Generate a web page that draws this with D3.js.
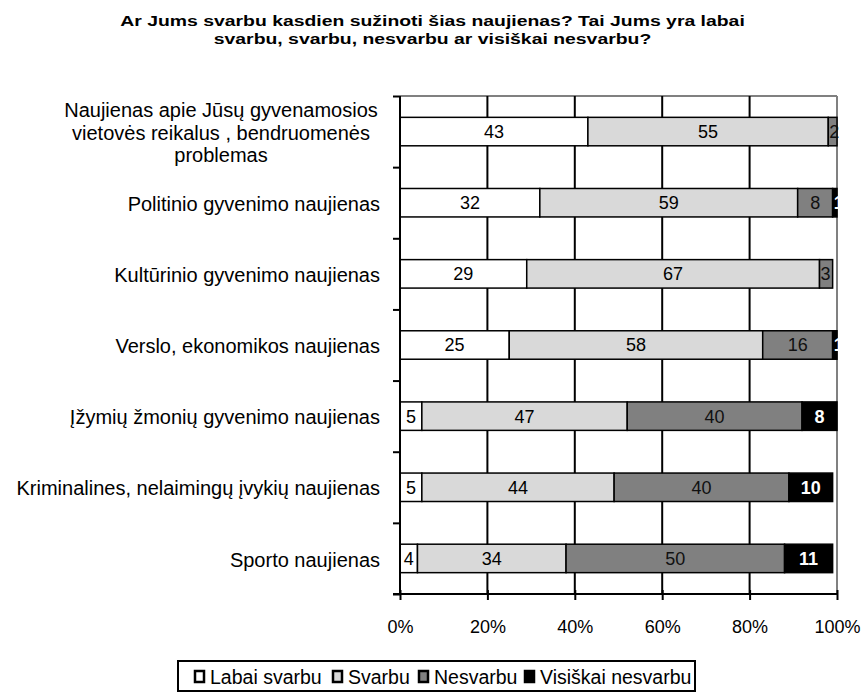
<!DOCTYPE html>
<html>
<head>
<meta charset="utf-8">
<script src="https://cdn.jsdelivr.net/npm/d3@7"></script>
<style>
  body { margin: 0; background: #fff; }
  text { font-family: Arial, "Liberation Sans", sans-serif; }
</style>
</head>
<body>
<div id="vizcont"></div>
<script>
// categories (top to bottom)
var categories = [
  "Naujienas apie Jūsų gyvenamosios|vietovės reikalus , bendruomenės|problemas",
  "Politinio gyvenimo naujienas",
  "Kultūrinio gyvenimo naujienas",
  "Verslo, ekonomikos naujienas",
  "Įžymių žmonių gyvenimo naujienas",
  "Kriminalines, nelaimingų įvykių naujienas",
  "Sporto naujienas"
];
var seriesNames = ["Labai svarbu", "Svarbu", "Nesvarbu", "Visiškai nesvarbu"];
var labaiSvarbu = [43, 32, 29, 25, 5, 5, 4];
var svarbu = [55, 59, 67, 58, 47, 44, 34];
var nesvarbu = [2, 8, 3, 16, 40, 40, 50];
var visiskaiNesvarbu = [0, 1, 0, 1, 8, 10, 11];
var xTicks = [0, 20, 40, 60, 80, 100];
var titleLines = [
  "Ar Jums svarbu kasdien sužinoti šias naujienas? Tai Jums yra labai",
  "svarbu, svarbu, nesvarbu ar visiškai nesvarbu?"
];

function draw_chart() {
  var colors = ["#ffffff", "#d9d9d9", "#808080", "#000000"];
  var labelColors = ["#000", "#000", "#111", "#fff"];

  var width = 865, height = 692;
  var pLeft = 400, pRight = 837, pTop = 96, pBottom = 594;

  var svg = d3.select("#vizcont").append("svg")
    .attr("width", width).attr("height", height);

  // title (the source font is a bit wider than Arial, so stretch it sideways)
  var titleG = svg.append("g");
  var tTexts = titleG.selectAll("text").data(titleLines).enter().append("text")
    .attr("x", 0).attr("y", function(d, i) { return 26 + i * 18; })
    .attr("text-anchor", "middle")
    .style("font-size", "15.5px").style("font-weight", "bold")
    .text(function(d) { return d; });
  var natural = tTexts.node().getComputedTextLength();
  var sx = 625 / natural;
  titleG.attr("transform", "translate(432.5,0) scale(" + sx + ",1)");

  var x = d3.scaleLinear().domain([0, 100]).range([pLeft, pRight]);
  var y = d3.scaleBand().domain(d3.range(categories.length))
    .range([pTop, pBottom]).paddingInner(0.6).paddingOuter(0.3);

  // plot border (top and right, gray)
  svg.append("line").attr("x1", pLeft).attr("x2", pRight).attr("y1", pTop).attr("y2", pTop)
    .attr("stroke", "#808080").attr("stroke-width", 2);
  svg.append("line").attr("x1", pRight).attr("x2", pRight).attr("y1", pTop).attr("y2", pBottom)
    .attr("stroke", "#808080").attr("stroke-width", 2);

  // vertical gridlines
  svg.append("g").selectAll("line").data(xTicks.slice(1, -1)).enter().append("line")
    .attr("x1", function(d) { return x(d); }).attr("x2", function(d) { return x(d); })
    .attr("y1", pTop).attr("y2", pBottom)
    .attr("stroke", "#000").attr("stroke-width", 2);

  // stacked data
  var rows = categories.map(function(c, i) {
    return [labaiSvarbu[i], svarbu[i], nesvarbu[i], visiskaiNesvarbu[i]];
  });
  var segs = [];
  rows.forEach(function(r, i) {
    var acc = 0;
    r.forEach(function(v, k) {
      segs.push({ row: i, k: k, x0: acc, x1: acc + v, v: v });
      acc += v;
    });
  });
  segs = segs.filter(function(d) { return d.v > 0; });

  var bars = svg.append("g");
  bars.selectAll("rect").data(segs).enter().append("rect")
    .attr("x", function(d) { return x(d.x0); })
    .attr("y", function(d) { return y(d.row); })
    .attr("width", function(d) { return x(d.x1) - x(d.x0); })
    .attr("height", y.bandwidth())
    .attr("fill", function(d) { return colors[d.k]; })
    .attr("stroke", "#000").attr("stroke-width", 1.5);

  bars.selectAll("text").data(segs).enter().append("text")
    .attr("x", function(d) {
      if (d.v <= 3) return x(d.x0) + 1;
      return (x(d.x0) + x(d.x1)) / 2;
    })
    .attr("y", function(d) { return y(d.row) + y.bandwidth() / 2; })
    .attr("dy", "0.36em")
    .attr("text-anchor", function(d) { return d.v <= 3 ? "start" : "middle"; })
    .style("font-size", "18px")
    .style("font-weight", function(d) { return d.k === 3 ? "bold" : "normal"; })
    .attr("fill", function(d) { return labelColors[d.k]; })
    .text(function(d) { return d.v; });

  // left axis with ticks at band edges
  var yEdge = d3.scaleLinear().domain([0, categories.length]).range([pTop, pBottom]);
  var yAxis = svg.append("g").attr("transform", "translate(" + pLeft + ",0)")
    .call(d3.axisLeft(yEdge).ticks(categories.length).tickSize(7).tickFormat(""));
  yAxis.select(".domain").remove();
  yAxis.selectAll("line").attr("stroke", "#000").attr("stroke-width", 2);
  svg.append("line").attr("x1", pLeft).attr("x2", pLeft).attr("y1", pTop).attr("y2", pBottom)
    .attr("stroke", "#000").attr("stroke-width", 2);

  // category labels
  var catG = svg.append("g");
  categories.forEach(function(c, i) {
    var lines = c.split("|");
    var cy = y(i) + y.bandwidth() / 2 + 1;
    var multi = lines.length > 1;
    var t = catG.append("text")
      .attr("text-anchor", multi ? "middle" : "end")
      .style("font-size", "20px").attr("fill", "#000");
    lines.forEach(function(l, j) {
      t.append("tspan")
        .attr("x", multi ? 221 : 380)
        .attr("y", cy + (j - (lines.length - 1) / 2) * 22.5)
        .attr("dy", "0.36em")
        .text(l);
    });
  });

  // bottom axis
  var xAxis = svg.append("g").attr("transform", "translate(0," + pBottom + ")")
    .call(d3.axisBottom(x).tickValues(xTicks).tickSize(6).tickPadding(20)
      .tickFormat(function(d) { return d + "%"; }));
  xAxis.select(".domain").attr("d", "M" + (pLeft - 7) + ",0H" + pRight)
    .attr("stroke", "#000").attr("stroke-width", 2);
  xAxis.selectAll(".tick line").attr("stroke", "#000").attr("stroke-width", 2).attr("y1", -4);
  xAxis.selectAll(".tick text").style("font-size", "18px").attr("fill", "#000")
    .style("font-family", "Arial, 'Liberation Sans', sans-serif");

  // legend
  var legend = svg.append("g");
  legend.append("rect").attr("x", 178).attr("y", 661).attr("width", 517).attr("height", 30)
    .attr("fill", "#fff").attr("stroke", "#000").attr("stroke-width", 2);
  var legendX = [195, 333, 419, 525];
  seriesNames.forEach(function(n, k) {
    legend.append("rect").attr("x", legendX[k]).attr("y", 671).attr("width", 9).attr("height", 11)
      .attr("fill", colors[k]).attr("stroke", "#000").attr("stroke-width", 2.5);
    legend.append("text").attr("x", legendX[k] + 15).attr("y", 677).attr("dy", "0.36em")
      .style("font-size", "19.5px").text(n);
  });
}
draw_chart();
</script>
</body>
</html>
